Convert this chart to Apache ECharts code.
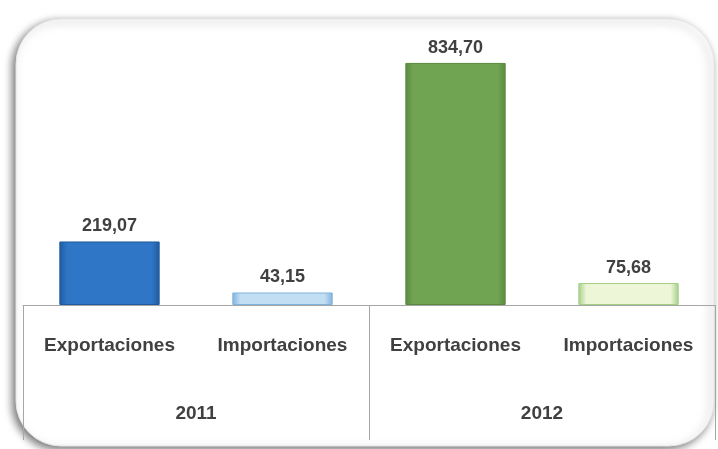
<!DOCTYPE html>
<html><head><meta charset="utf-8">
<script src="https://cdn.jsdelivr.net/npm/echarts@6/dist/echarts.min.js"></script>
<style>html,body{margin:0;padding:0;background:#fff}#c{width:718px;height:449px}</style>
</head><body><div id="c"></div>
<script>
const flowLabels = ['Exportaciones','Importaciones','Exportaciones','Importaciones'];
const yearLabels = ['2011','2012'];
const values = [219.07, 43.15, 834.70, 75.68];
const barColors = [
  ['#1f5a9e','#2f76c6','#1f5a9e'],
  ['#7fb2dc','#c2def3','#7fb2dc'],
  ['#5a8a3e','#70a452','#5a8a3e'],
  ['#a3cf85','#eef6d8','#a3cf85']
];
const FONT = 'Liberation Sans';
const chart = echarts.init(document.getElementById('c'));
function grad(c){
  return new echarts.graphic.LinearGradient(0,0,1,0,[
    {offset:0,color:c[0]},{offset:0.08,color:c[1]},{offset:0.92,color:c[1]},{offset:1,color:c[2]}
  ]);
}
chart.setOption({
  animation:false,
  graphic:[{
    type:'rect', z:-10, silent:true,
    shape:{x:16,y:19,width:698,height:427,r:45},
    style:{fill:'#fff',stroke:'#e6e6e6',lineWidth:1,shadowBlur:8,shadowColor:'rgba(0,0,0,0.55)',shadowOffsetX:-3,shadowOffsetY:3}
  }],
  grid:{left:23,right:3,top:44,bottom:144},
  xAxis:[{
    type:'category', data:flowLabels, position:'bottom',
    axisLine:{show:true,lineStyle:{color:'#a6a6a6',width:1}},
    axisTick:{show:false},
    axisLabel:{margin:31,color:'#404040',fontFamily:FONT,fontWeight:'bold',fontSize:19,interval:0}
  },{
    type:'category', data:yearLabels, position:'bottom',
    axisLine:{show:false},
    axisTick:{show:true,length:135,lineStyle:{color:'#a6a6a6',width:1}},
    axisLabel:{margin:99,color:'#404040',fontFamily:FONT,fontWeight:'bold',fontSize:19}
  }],
  yAxis:{type:'value',min:0,max:900,show:false,splitLine:{show:false}},
  series:[{
    type:'bar', xAxisIndex:0, barWidth:'58%',
    data:values.map((v,i)=>({value:v,itemStyle:{color:grad(barColors[i]),borderColor:barColors[i][0],borderWidth:1}})),
    label:{show:true,position:'top',distance:6,color:'#404040',fontFamily:FONT,fontWeight:'bold',fontSize:18,
      formatter:p=>p.value.toFixed(2).replace('.',',')}
  }]
});
</script></body></html>
